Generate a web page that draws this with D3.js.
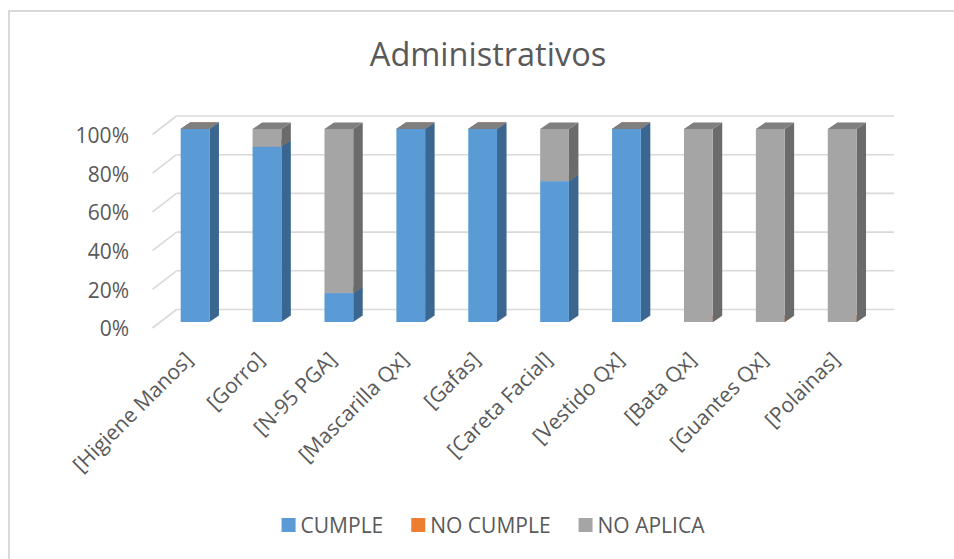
<!DOCTYPE html>
<html>
<head>
<meta charset="utf-8">
<script src="https://cdn.jsdelivr.net/npm/d3@7"></script>
<style>
  html, body { margin: 0; padding: 0; background: #fff; }
  svg { display: block; }
  text { font-family: "Open Sans", sans-serif; fill: #595959; }
</style>
</head>
<body>
<svg id="chart" width="954" height="559"></svg>
<script>
const categories = ["[Higiene Manos]", "[Gorro]", "[N-95 PGA]", "[Mascarilla Qx]", "[Gafas]",
  "[Careta Facial]", "[Vestido Qx]", "[Bata Qx]", "[Guantes Qx]", "[Polainas]"];
const cumple   = [1, 0.91, 0.15, 1, 1, 0.73, 1, 0, 0, 0];
const noCumple = [0, 0, 0, 0, 0, 0, 0, 0, 0, 0];
const noAplica = [0, 0.09, 0.85, 0, 0, 0.27, 0, 1, 1, 1];
const seriesNames = ["CUMPLE", "NO CUMPLE", "NO APLICA"];
const yTicks = [0, 0.2, 0.4, 0.6, 0.8, 1];

// face colours: front, side, top
const colors = [
  { front: "#5B9BD5", side: "#3A6690", top: "#4a7fb0" },
  { front: "#ED7D31", side: "#A85520", top: "#c8692a" },
  { front: "#A5A5A5", side: "#6B6B6B", top: "#7F7F7F" }
];

const svg = d3.select("#chart");

// chart frame (cropped at right/bottom in the picture)
svg.append("rect")
  .attr("x", 9).attr("y", 11)
  .attr("width", 1000).attr("height", 600)
  .attr("fill", "none")
  .attr("stroke", "#d9d9d9")
  .attr("stroke-width", 2);

svg.append("text")
  .attr("x", 488).attr("y", 66)
  .attr("text-anchor", "middle")
  .style("font-size", "32.5px")
  .text("Administrativos");

const x = d3.scaleBand()
  .domain(categories)
  .range([159.1, 878.1])
  .paddingInner(0.6)
  .paddingOuter(0.3);

// front plane of the bars and back wall of the plot
const yFront = d3.scaleLinear().domain([0, 1]).range([322, 129]);
const yBack = d3.scaleLinear().domain([0, 1]).range([309.5, 116]);

const wallLeft = 176.5, wallRight = 894;
const floorDx = -24, floorDy = 18.5;
const barDx = 9.5, barDy = -6.5;

// gridlines on the back wall + side wall diagonals
const grid = svg.append("g");
yTicks.forEach(t => {
  const yb = yBack(t);
  grid.append("line")
    .attr("x1", wallLeft).attr("x2", wallRight)
    .attr("y1", yb).attr("y2", yb)
    .attr("stroke", "#d9d9d9").attr("stroke-width", 1.6);
  grid.append("line")
    .attr("x1", wallLeft).attr("y1", yb)
    .attr("x2", wallLeft + floorDx).attr("y2", yb + floorDy)
    .attr("stroke", "#d9d9d9").attr("stroke-width", 1.6);
});

svg.append("g").selectAll("text")
  .data(yTicks)
  .join("text")
  .attr("x", 129)
  .attr("y", d => yBack(d) + floorDy + 1)
  .attr("dy", "0.35em")
  .attr("text-anchor", "end")
  .style("font-size", "21px")
  .text(d3.format(".0%"));

// stacked 3D bars
const stack = d3.stack().keys([0, 1, 2]).value((d, k) => d[k]);
const rows = categories.map((c, i) => [cumple[i], noCumple[i], noAplica[i]]);
const layers = stack(rows);

const bars = svg.append("g");
categories.forEach((c, i) => {
  const g = bars.append("g");
  const x0 = x(c), w = x.bandwidth();
  layers.forEach((layer, k) => {
    const [v0, v1] = layer[i];
    const yt = yFront(v1), yb = yFront(v0);
    const col = colors[k];
    g.append("polygon")
      .attr("points", [
        [x0 + w, yb], [x0 + w + barDx, yb + barDy],
        [x0 + w + barDx, yt + barDy], [x0 + w, yt]
      ].join(" "))
      .attr("fill", col.side);
    g.append("rect")
      .attr("x", x0).attr("y", yt)
      .attr("width", w).attr("height", yb - yt)
      .attr("fill", col.front);
    g.append("polygon")
      .attr("points", [
        [x0, yt], [x0 + barDx, yt + barDy],
        [x0 + w + barDx, yt + barDy], [x0 + w, yt]
      ].join(" "))
      .attr("fill", col.top);
  });
});

// rotated category labels
svg.append("g").selectAll("text")
  .data(categories)
  .join("text")
  .attr("text-anchor", "end")
  .attr("transform", d => `translate(${x(d) + x.bandwidth() / 2 - 1},${361}) rotate(-45)`)
  .style("font-size", "21px")
  .text(d => d);

// legend
const legend = svg.append("g");
let lx = 0;
seriesNames.forEach((name, k) => {
  const item = legend.append("g").attr("transform", `translate(${lx},0)`);
  item.append("rect")
    .attr("x", 0).attr("y", 518)
    .attr("width", 14).attr("height", 14)
    .attr("fill", colors[k].front);
  const t = item.append("text")
    .attr("x", 19).attr("y", 533)
    .style("font-size", "21px")
    .text(name);
  lx += 19 + t.node().getComputedTextLength() + 28;
});
const legendWidth = lx - 28;
legend.attr("transform", `translate(${493 - legendWidth / 2},0)`);
</script>
</body>
</html>
